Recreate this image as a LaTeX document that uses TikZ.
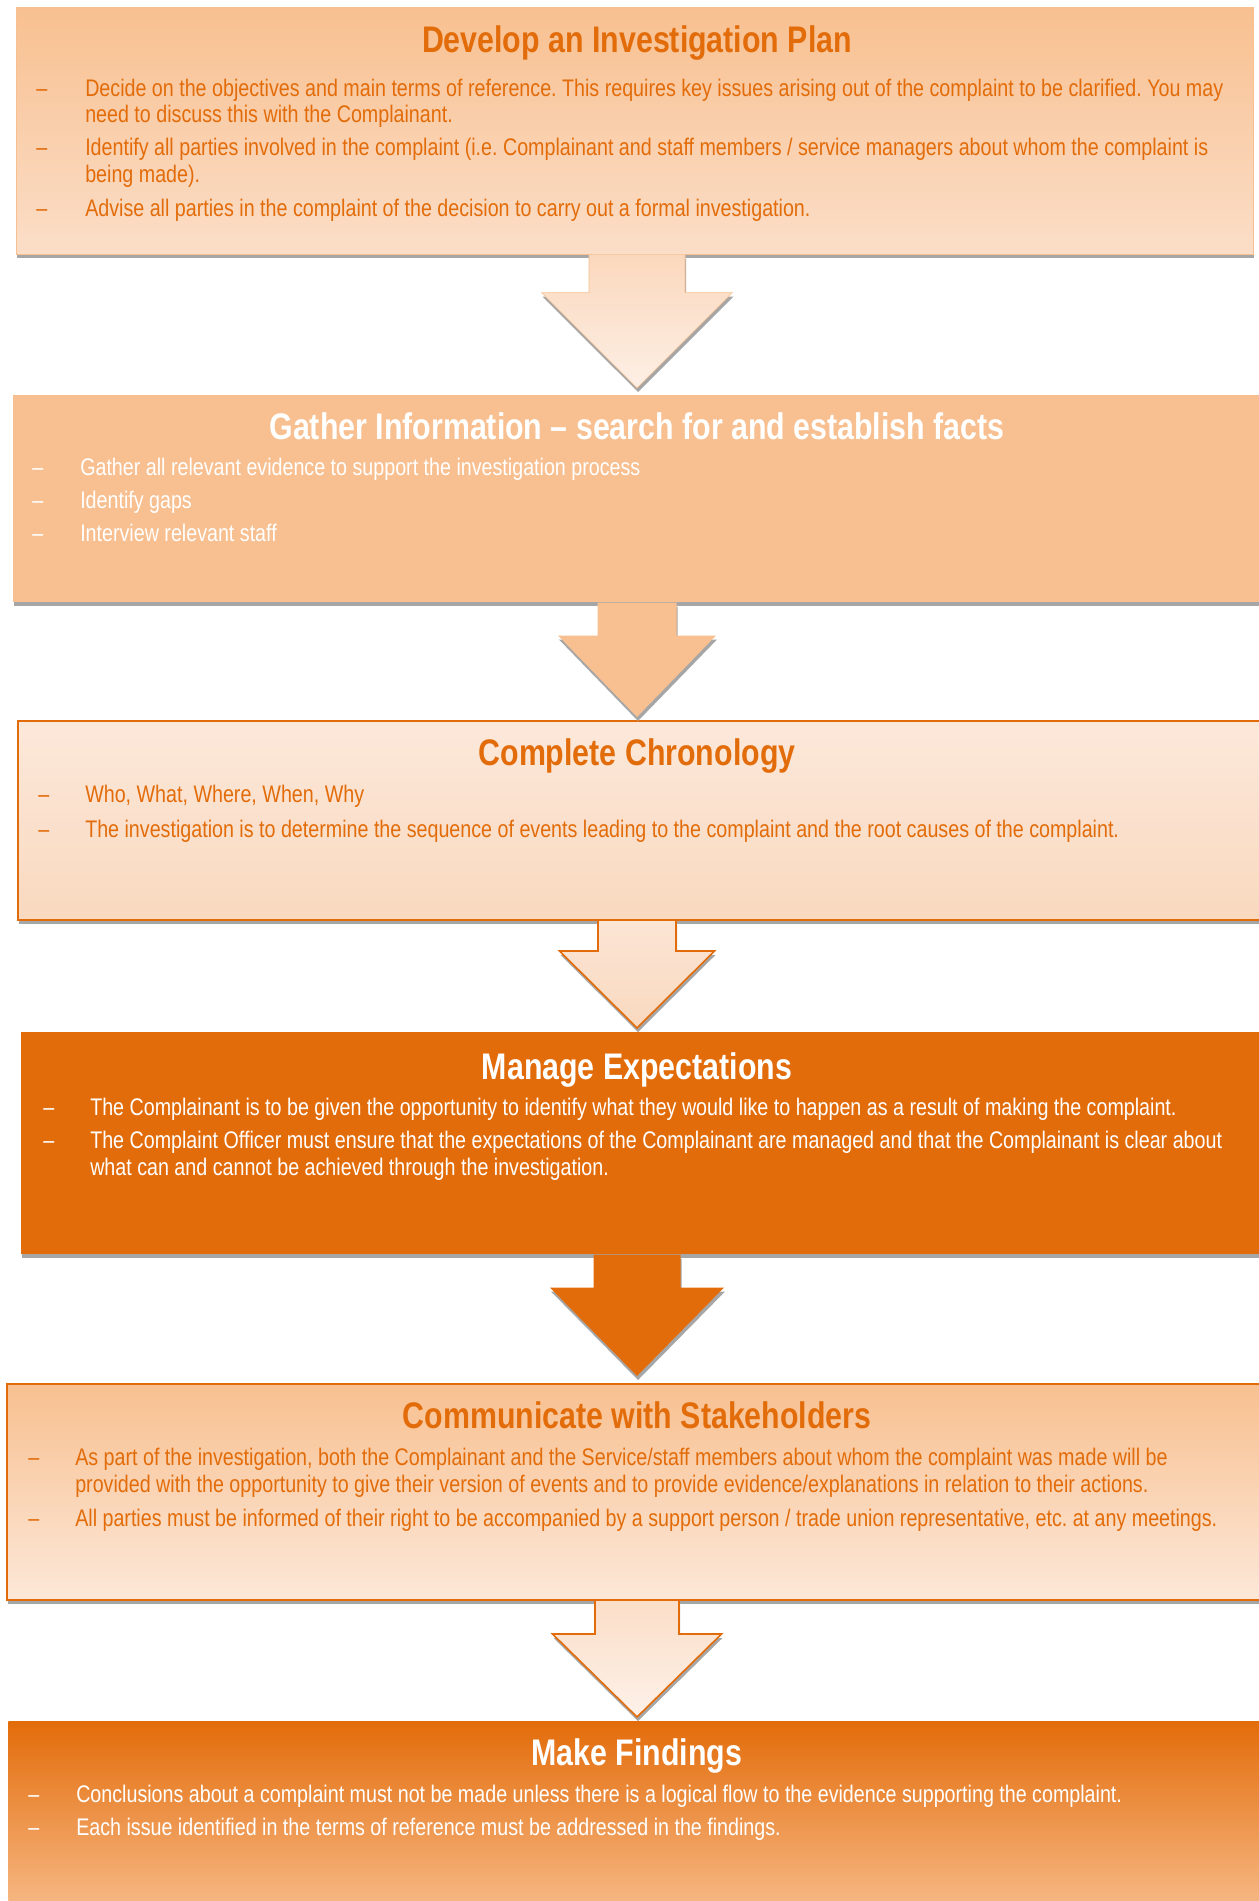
\documentclass[tikz,border=0pt]{standalone}
\usepackage{fontspec}
\setmainfont{Liberation Sans}[FakeStretch=0.82]
\usetikzlibrary{shapes, arrows.meta, positioning, calc, shadows}
\frenchspacing

\definecolor{accent}{HTML}{E36C0A}
\definecolor{peach}{HTML}{F8C090}
\definecolor{peachpale}{HTML}{FBDEC8}
\definecolor{cream}{HTML}{FCE8DA}
\definecolor{creamdeep}{HTML}{F9D9BF}
\definecolor{findlow}{HTML}{F8BE8E}

\newdimen\pxu \pxu=0.75pt

% block arrow: fill style, line style, from, to, stem half, head half, stem length, gap
\newcommand{\blockarrow}[8]{%
  \coordinate (#3-top) at (#3.south -| axis);
  \coordinate (#3-tip) at ($(#4.north -| axis)+(0,-#8)$);
  \path[#1] ($(#3-top)+(-#5,0)$) -- ($(#3-top)+(-#5,#7)$) -- ($(#3-top)+(-#6,#7)$) -- (#3-tip)
    -- ($(#3-top)+(#6,#7)$) -- ($(#3-top)+(#5,#7)$) -- ($(#3-top)+(#5,0)$) -- cycle;
  \draw[#2] ($(#3-top)+(-#5,0)$) -- ($(#3-top)+(-#5,#7)$) -- ($(#3-top)+(-#6,#7)$) -- (#3-tip)
    -- ($(#3-top)+(#6,#7)$) -- ($(#3-top)+(#5,#7)$) -- ($(#3-top)+(#5,0)$);
}

\begin{document}
\begin{tikzpicture}[
  x=0.75pt, y=-0.75pt,
  boxshadow/.style={drop shadow={shadow xshift=0.75pt, shadow yshift=-3pt, fill=gray!70, opacity=1}},
  box/.style={rectangle, anchor=north west, inner sep=0pt, boxshadow},
  heading/.style={anchor=base, inner sep=0pt, font=\bfseries\fontsize{27.75}{32}\selectfont},
  bodytext/.style={anchor=base west, inner sep=0pt, font=\fontsize{18}{21}\selectfont},
  arrowfill/.style={boxshadow}
]
\useasboundingbox[fill=white] (0,0) rectangle (1258,1901);
\coordinate (axis) at (637,0);

% boxes
\node[box, draw=peach, top color=peach, bottom color=peachpale, minimum width=1237\pxu, minimum height=247\pxu] (plan) at (16,7) {};
\node[box, fill=peach, minimum width=1257\pxu, minimum height=207\pxu] (gather) at (13,395) {};
\node[box, draw=accent, line width=1.5pt, top color=cream, bottom color=creamdeep, minimum width=1253\pxu, minimum height=199\pxu] (chrono) at (17,720) {};
\node[box, fill=accent, minimum width=1249\pxu, minimum height=222\pxu] (expect) at (21,1032) {};
\node[box, draw=accent, line width=1.5pt, top color=peach, bottom color=peachpale!70!white, minimum width=1264\pxu, minimum height=216\pxu] (comm) at (6,1383) {};
\node[box, top color=accent, bottom color=findlow, minimum width=1262\pxu, minimum height=200\pxu] (findings) at (8,1721) {};

% arrows
\blockarrow{arrowfill, top color=peachpale!80!peach, bottom color=cream!70!white}{draw=peach}{plan}{gather}{48}{95.5}{38}{7}
\blockarrow{arrowfill, fill=peach}{draw=none}{gather}{chrono}{39.5}{79}{33}{3}
\blockarrow{arrowfill, top color=cream!80!creamdeep, bottom color=creamdeep}{draw=accent, line width=1.2pt}{chrono}{expect}{39}{77.5}{30}{4}
\blockarrow{arrowfill, fill=accent}{draw=none}{expect}{comm}{43.5}{87}{33}{7}
\blockarrow{arrowfill, top color=peachpale, bottom color=cream!60!white}{draw=accent, line width=1.2pt}{comm}{findings}{42}{84.5}{33}{4}

% Develop an Investigation Plan
\node[heading, text=accent] (planT) at (637,53) {Develop an Investigation Plan};
\node[bodytext, text=accent] (planD1) at (36,97) {–};
\node[bodytext, text=accent] (plan1) at (85,97) {Decide on the objectives and main terms of reference. This requires key issues arising out of the complaint to be clarified. You may};
\node[bodytext, text=accent] (plan1b) at (85,123) {need to discuss this with the Complainant.};
\node[bodytext, text=accent] (planD2) at (36,156) {–};
\node[bodytext, text=accent] (plan2) at (85,156) {Identify all parties involved in the complaint (i.e. Complainant and staff members / service managers about whom the complaint is};
\node[bodytext, text=accent] (plan2b) at (85,183) {being made).};
\node[bodytext, text=accent] (planD3) at (36,217) {–};
\node[bodytext, text=accent] (plan3) at (85,217) {Advise all parties in the complaint of the decision to carry out a formal investigation.};

% Gather Information
\node[heading, text=white] (gatherT) at (637,439) {Gather Information – search for and establish facts};
\node[bodytext, text=white] (gatherD1) at (32,475) {–};
\node[bodytext, text=white] (gather1) at (80,475) {Gather all relevant evidence to support the investigation process};
\node[bodytext, text=white] (gatherD2) at (32,508) {–};
\node[bodytext, text=white] (gather2) at (80,508) {Identify gaps};
\node[bodytext, text=white] (gatherD3) at (32,541) {–};
\node[bodytext, text=white] (gather3) at (80,541) {Interview relevant staff};

% Complete Chronology
\node[heading, text=accent] (chronoT) at (637,765) {Complete Chronology};
\node[bodytext, text=accent] (chronoD1) at (38,802) {–};
\node[bodytext, text=accent] (chrono1) at (85,802) {Who, What, Where, When, Why};
\node[bodytext, text=accent] (chronoD2) at (38,837) {–};
\node[bodytext, text=accent] (chrono2) at (85,837) {The investigation is to determine the sequence of events leading to the complaint and the root causes of the complaint.};

% Manage Expectations
\node[heading, text=white] (expectT) at (637,1079) {Manage Expectations};
\node[bodytext, text=white] (expectD1) at (43,1115) {–};
\node[bodytext, text=white] (expect1) at (90,1115) {The Complainant is to be given the opportunity to identify what they would like to happen as a result of making the complaint.};
\node[bodytext, text=white] (expectD2) at (43,1148) {–};
\node[bodytext, text=white] (expect2) at (90,1148) {The Complaint Officer must ensure that the expectations of the Complainant are managed and that the Complainant is clear about};
\node[bodytext, text=white] (expect2b) at (90,1175) {what can and cannot be achieved through the investigation.};

% Communicate with Stakeholders
\node[heading, text=accent] (commT) at (637,1428) {Communicate with Stakeholders};
\node[bodytext, text=accent] (commD1) at (28,1465) {–};
\node[bodytext, text=accent] (comm1) at (75,1465) {As part of the investigation, both the Complainant and the Service/staff members about whom the complaint was made will be};
\node[bodytext, text=accent] (comm1b) at (75,1492) {provided with the opportunity to give their version of events and to provide evidence/explanations in relation to their actions.};
\node[bodytext, text=accent] (commD2) at (28,1526) {–};
\node[bodytext, text=accent] (comm2) at (75,1526) {All parties must be informed of their right to be accompanied by a support person / trade union representative, etc. at any meetings.};

% Make Findings
\node[heading, text=white] (findingsT) at (637,1765) {Make Findings};
\node[bodytext, text=white] (findingsD1) at (28,1802) {–};
\node[bodytext, text=white] (findings1) at (76,1802) {Conclusions about a complaint must not be made unless there is a logical flow to the evidence supporting the complaint.};
\node[bodytext, text=white] (findingsD2) at (28,1835) {–};
\node[bodytext, text=white] (findings2) at (76,1835) {Each issue identified in the terms of reference must be addressed in the findings.};

\end{tikzpicture}
\end{document}
